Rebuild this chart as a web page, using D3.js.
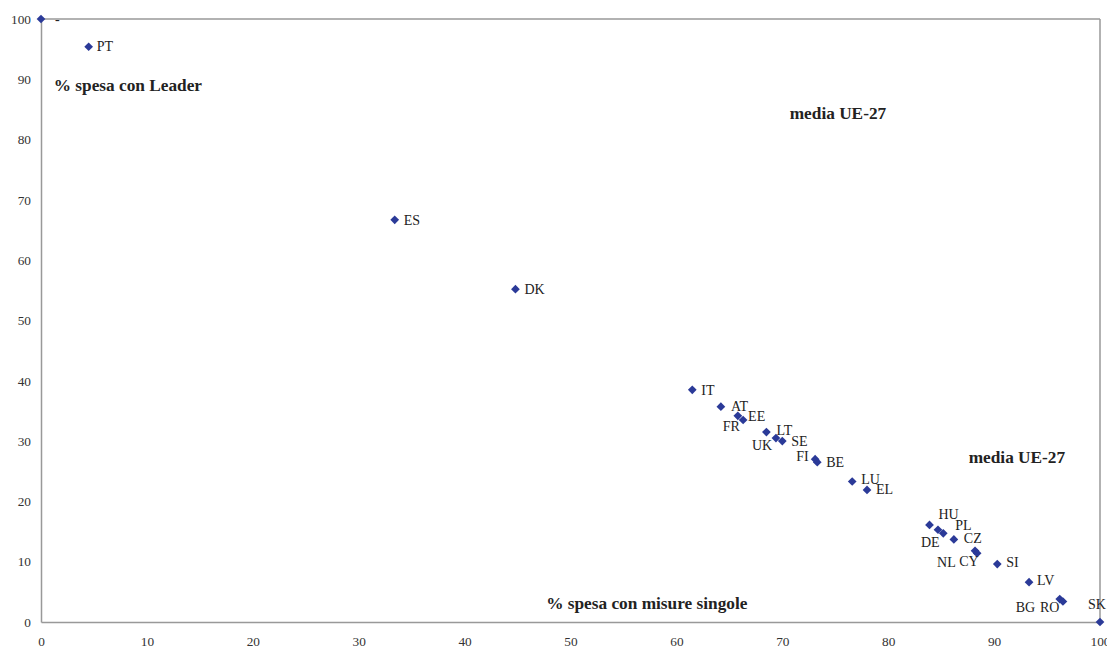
<!DOCTYPE html>
<html>
<head>
<meta charset="utf-8">
<script src="https://cdn.jsdelivr.net/npm/d3@7"></script>
<style>
  body { margin: 0; background: #fff; }
  text { font-family: "Liberation Serif", "DejaVu Serif", serif; }
</style>
</head>
<body>
<svg id="chart" width="1107" height="651"></svg>
<script>
// data
var countries = ["-", "PT", "ES", "DK", "IT", "AT", "FR", "EE", "LT", "UK", "SE", "FI", "BE", "LU", "EL",
  "HU", "DE", "PL", "CZ", "NL", "CY", "SI", "LV", "BG", "RO", "SK"];
var misureSingole = [0, 4.5, 33.4, 44.8, 61.5, 64.2, 65.8, 66.3, 68.5, 69.4, 70.0, 73.1, 73.3, 76.6, 78.0,
  83.9, 84.7, 85.2, 86.2, 88.2, 88.4, 90.3, 93.3, 96.2, 96.5, 100];
var speseLeader = [100, 95.4, 66.7, 55.2, 38.5, 35.7, 34.2, 33.5, 31.5, 30.5, 30.0, 27.0, 26.5, 23.3, 21.9,
  16.1, 15.3, 14.7, 13.7, 11.8, 11.4, 9.6, 6.6, 3.8, 3.4, 0];
var xTicks = [0, 10, 20, 30, 40, 50, 60, 70, 80, 90, 100];
var yTicks = [0, 10, 20, 30, 40, 50, 60, 70, 80, 90, 100];

// label offsets in px (layout only)
var labelDx = [14, 8, 9, 9, 9, 10, -15, 5, 10, -24, 9, -19, 9, 9, 9,
  9, -17, 12, 10, -38, -18, 9, 8, -44, -23, -12];
var labelDy = [0, -1, 0, 0, 0, -1, 10, -4, -2, 7, 0, -3, 0, -2, -1,
  -11, 12, -8, -1, 11, 8, -2, -2, 8, 6, -18];

var points = countries.map(function (c, i) {
  return { name: c, x: misureSingole[i], y: speseLeader[i], dx: labelDx[i], dy: labelDy[i] };
});

var svg = d3.select("#chart");
var x = d3.scaleLinear().domain([0, 100]).range([41, 1100]);
var y = d3.scaleLinear().domain([0, 100]).range([622, 19]);
var axisColor = "#999";

// frame: top and right borders
svg.append("line")
  .attr("x1", x(0)).attr("x2", x(100))
  .attr("y1", y(100)).attr("y2", y(100))
  .style("stroke", axisColor).style("stroke-width", 1.5);
svg.append("line")
  .attr("x1", x(100)).attr("x2", x(100))
  .attr("y1", y(100)).attr("y2", y(0))
  .style("stroke", axisColor).style("stroke-width", 1.5);

var xAxis = svg.append("g")
  .attr("transform", "translate(0," + y(0) + ")")
  .call(d3.axisBottom(x).tickValues(xTicks).tickSize(0).tickSizeOuter(0).tickPadding(15));
var yAxis = svg.append("g")
  .attr("transform", "translate(" + x(0) + ",0)")
  .call(d3.axisLeft(y).tickValues(yTicks).tickSize(0).tickSizeOuter(0).tickPadding(10));

[xAxis, yAxis].forEach(function (g) {
  g.select(".domain").style("stroke", axisColor).style("stroke-width", 1.5);
  g.selectAll("text")
    .style("font-family", "'Liberation Serif', serif")
    .style("font-size", "13.3px")
    .style("fill", "#333");
});

// annotations
var notes = [
  { t: "% spesa con Leader", x: 1.2, y: 89.05 },
  { t: "media UE-27", x: 70.7, y: 84.4 },
  { t: "media UE-27", x: 87.6, y: 27.36 },
  { t: "% spesa con misure singole", x: 47.7, y: 3.15 }
];
svg.selectAll(".note").data(notes).enter().append("text")
  .attr("class", "note")
  .attr("x", function (d) { return x(d.x); })
  .attr("y", function (d) { return y(d.y); })
  .attr("dy", "0.35em")
  .style("font-size", "17.3px")
  .style("font-weight", "bold")
  .style("fill", "#222")
  .text(function (d) { return d.t; });

// diamonds
var diamond = d3.symbol().type(d3.symbolSquare).size(38);
var dots = svg.selectAll(".pt").data(points).enter().append("g").attr("class", "pt");
dots.append("path")
  .attr("d", diamond)
  .attr("transform", function (d) {
    return "translate(" + x(d.x) + "," + y(d.y) + ") rotate(45)";
  })
  .style("fill", "#2B3A98");
dots.append("text")
  .attr("x", function (d) { return x(d.x) + d.dx; })
  .attr("y", function (d) { return y(d.y) + d.dy; })
  .attr("dy", "0.35em")
  .style("font-size", "14px")
  .style("fill", "#222")
  .text(function (d) { return d.name; });
</script>
</body>
</html>
